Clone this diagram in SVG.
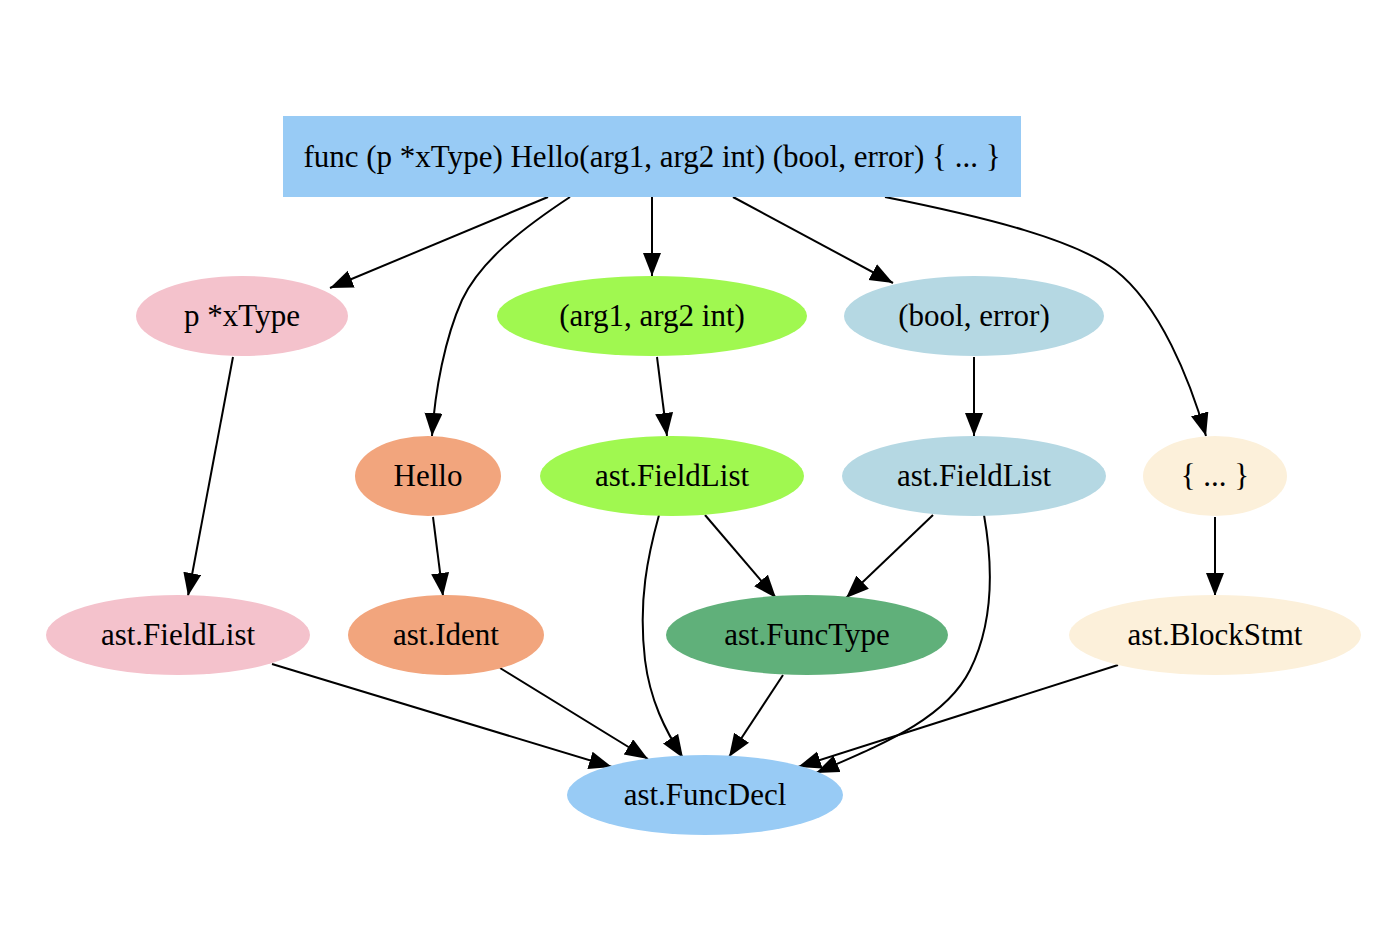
<svg xmlns="http://www.w3.org/2000/svg" width="1386" height="934" viewBox="0 0 1386 934">
<style>
text{font-family:"Liberation Serif","Times New Roman",serif;font-size:31px;fill:#000;text-anchor:middle;dominant-baseline:central}
.e{fill:none;stroke:#000;stroke-width:2;marker-end:url(#ah)}
</style>
<defs>
<marker id="ah" markerUnits="userSpaceOnUse" markerWidth="26" markerHeight="20" refX="23" refY="9" orient="auto">
<path d="M0,0 L23,9 L0,18 z" fill="#000"/>
</marker>
</defs>
<rect width="1386" height="934" fill="#fff"/>
<g id="connectors">
<path class="e" d="M548,197 L330,288"/>
<path class="e" d="M570,197 C520,230 480,262 462,300 C445,338 435,390 432,436"/>
<path class="e" d="M652,197 L652,276"/>
<path class="e" d="M733,197 L893,283"/>
<path class="e" d="M885,197 C990,218 1075,240 1115,270 C1160,305 1190,380 1206,436"/>
<path class="e" d="M233,357 L188,596"/>
<path class="e" d="M657,357 L667,436"/>
<path class="e" d="M974,357 L974,436"/>
<path class="e" d="M433,517 L443,596"/>
<path class="e" d="M1215,517 L1215,596"/>
<path class="e" d="M705,515 L776,598"/>
<path class="e" d="M933,515 L846,598"/>
<path class="e" d="M659,515 C648,555 638,600 645,660 C650,700 665,730 683,758"/>
<path class="e" d="M984,515 C992,560 995,620 970,670 C945,720 880,745 816,773"/>
<path class="e" d="M783,675 L729,757"/>
<path class="e" d="M1118,665 L798,767"/>
<path class="e" d="M500,668 L648,759"/>
<path class="e" d="M272,664 L612,767"/>
</g>
<g id="n_top"><rect x="283" y="116" width="738" height="81" fill="#98CBF5"/><text x="652" y="156">func (p *xType) Hello(arg1, arg2 int) (bool, error) { ... }</text></g>
<g id="n_recv"><ellipse cx="242" cy="316" rx="106" ry="40" fill="#F4C2CC"/><text x="242" y="315">p *xType</text></g>
<g id="n_params"><ellipse cx="652" cy="316" rx="155" ry="40" fill="#A0F850"/><text x="652" y="315">(arg1, arg2 int)</text></g>
<g id="n_results"><ellipse cx="974" cy="316" rx="130" ry="40" fill="#B5D8E3"/><text x="974" y="315">(bool, error)</text></g>
<g id="n_hello"><ellipse cx="428" cy="476" rx="73" ry="40" fill="#F2A57D"/><text x="428" y="475">Hello</text></g>
<g id="n_fl_params"><ellipse cx="672" cy="476" rx="132" ry="40" fill="#A0F850"/><text x="672" y="475">ast.FieldList</text></g>
<g id="n_fl_results"><ellipse cx="974" cy="476" rx="132" ry="40" fill="#B5D8E3"/><text x="974" y="475">ast.FieldList</text></g>
<g id="n_body"><ellipse cx="1215" cy="476" rx="72" ry="40" fill="#FCF0DA"/><text x="1215" y="475">{ ... }</text></g>
<g id="n_fl_recv"><ellipse cx="178" cy="635" rx="132" ry="40" fill="#F4C2CC"/><text x="178" y="634">ast.FieldList</text></g>
<g id="n_ident"><ellipse cx="446" cy="635" rx="98" ry="40" fill="#F2A57D"/><text x="446" y="634">ast.Ident</text></g>
<g id="n_functype"><ellipse cx="807" cy="635" rx="141" ry="40" fill="#60B07A"/><text x="807" y="634">ast.FuncType</text></g>
<g id="n_blockstmt"><ellipse cx="1215" cy="635" rx="146" ry="40" fill="#FCF0DA"/><text x="1215" y="634">ast.BlockStmt</text></g>
<g id="n_funcdecl"><ellipse cx="705" cy="795" rx="138" ry="40" fill="#98CBF5"/><text x="705" y="794">ast.FuncDecl</text></g>
</svg>
